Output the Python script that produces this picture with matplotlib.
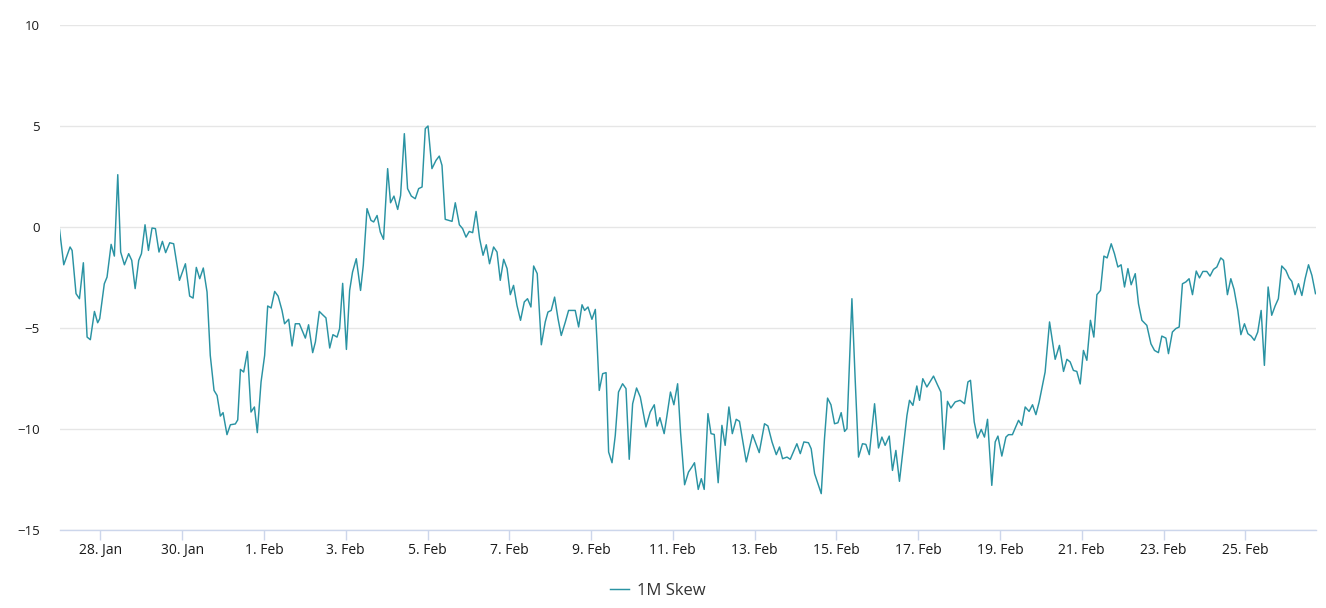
import matplotlib
matplotlib.use("Agg")
import matplotlib.pyplot as plt
import matplotlib.dates as mdates
import pandas as pd
import numpy as np

# ---- data ----
start = "2024-01-27 00:00"
hours = [0.0, 2.5, 6.2, 7.4, 9.7, 11.7, 14.0, 16.2, 18.1, 20.5, 22.4, 23.6, 26.3, 27.9, 30.3, 32.2, 34.2, 35.9, 38.1, 40.6,
         42.4, 44.4, 46.5, 48.1, 50.2, 52.2, 54.3, 56.3, 58.4, 60.4, 62.3, 64.7, 67.0, 70.4, 73.9, 76.4, 78.4, 80.3, 82.3, 84.4,
         86.6, 88.5, 90.7, 92.5, 94.4, 96.0, 98.3, 100.3, 103.2, 104.6, 106.2, 108.1, 110.3, 112.4, 114.4, 116.1, 118.3, 120.4, 122.2, 124.2,
         126.3, 128.3, 130.6, 132.1, 134.5, 136.5, 138.4, 140.8, 144.3, 146.2, 148.6, 150.2, 152.5, 154.4, 156.4, 158.6, 160.5, 162.9, 164.4, 166.2,
         168.4, 170.3, 172.0, 174.2, 176.7, 178.3, 180.5, 182.8, 184.4, 186.4, 188.3, 190.2, 192.6, 194.3, 196.3, 198.5, 200.2, 202.4, 204.3, 206.5,
         208.8, 210.8, 212.8, 214.7, 216.3, 218.6, 221.0, 222.9, 224.5, 226.4, 230.4, 232.3, 234.7, 236.6, 238.6, 240.5, 242.5, 244.5, 246.6, 248.6,
         250.5, 252.4, 254.8, 256.8, 258.7, 260.7, 262.7, 264.6, 266.5, 268.5, 270.6, 272.8, 274.7, 276.7, 278.3, 280.4, 282.8, 285.1, 286.7, 288.6,
         290.6, 292.6, 294.5, 296.9, 298.8, 302.7, 304.7, 306.7, 308.2, 310.2, 312.5, 314.5, 315.5, 316.8, 318.8, 320.8, 322.3, 324.3, 326.2, 328.1,
         330.5, 332.5, 334.4, 336.4, 338.7, 340.9, 344.2, 346.7, 349.1, 350.8, 352.4, 354.9, 356.5, 358.6, 360.6, 362.8, 364.5, 366.9, 369.2, 371.2,
         372.7, 374.9, 376.7, 378.4, 380.6, 382.4, 384.3, 386.6, 388.8, 390.7, 392.9, 394.9, 397.2, 399.1, 403.1, 406.8, 410.7, 413.8, 415.8, 418.2,
         420.7, 422.6, 424.4, 427.0, 428.9, 432.8, 434.8, 436.9, 439.6, 441.2, 443.2, 447.1, 449.0, 450.8, 452.8, 454.9, 456.9, 458.8, 460.8, 462.2,
         465.1, 467.0, 469.0, 471.3, 473.3, 475.3, 478.4, 480.7, 482.7, 484.6, 487.0, 488.9, 490.9, 493.0, 495.4, 497.4, 498.9, 500.9, 503.2, 504.8,
         506.7, 509.1, 513.0, 515.3, 517.3, 519.1, 521.2, 523.2, 525.7, 528.6, 531.2, 533.2, 534.7, 536.9, 538.8, 541.0, 542.9, 544.7, 547.2, 549.2,
         550.8, 553.1, 555.5, 557.0, 559.3, 562.9, 564.8, 566.8, 569.1, 571.1, 573.1, 575.0, 578.5, 581.1, 584.4, 586.9, 589.3, 591.3, 593.2, 595.1,
         597.1, 599.1, 601.0, 603.0, 605.1, 607.1, 608.9, 611.0, 613.0, 614.9, 617.3, 619.2, 621.2, 623.1, 625.1, 627.1, 629.0, 631.4, 633.3, 635.3,
         638.2, 640.6, 642.7, 645.0, 647.0, 649.4, 650.9, 653.2, 655.2, 657.2, 659.1, 661.1, 663.0, 665.0, 667.2, 669.1, 671.1, 673.4, 675.3, 677.3,
         679.3, 681.6, 683.2, 685.5, 687.5, 689.4, 691.6, 693.4, 695.5, 697.5, 699.4, 701.3, 703.3, 705.3, 707.2, 709.4, 711.5, 713.5, 715.4, 717.4,
         719.8, 721.7, 723.3, 725.2, 727.2, 729.2, 731.1, 733.1, 735.1, 737.2]
skew = [-0.12, -1.87, -0.99, -1.16, -3.30, -3.55, -1.77, -5.45, -5.58, -4.18, -4.74, -4.54, -2.81, -2.48, -0.86, -1.44, 2.59, -1.24, -1.87, -1.32,
        -1.65, -3.05, -1.65, -1.32, 0.11, -1.16, -0.05, -0.08, -1.24, -0.71, -1.27, -0.78, -0.83, -2.64, -1.82, -3.42, -3.52, -2.00, -2.56, -2.03,
        -3.22, -6.36, -8.09, -8.34, -9.36, -9.19, -10.28, -9.79, -9.75, -9.55, -7.05, -7.18, -6.16, -9.16, -8.91, -10.18, -7.67, -6.36, -3.91, -4.01,
        -3.19, -3.42, -4.13, -4.79, -4.57, -5.89, -4.79, -4.79, -5.50, -4.84, -6.22, -5.69, -4.18, -4.34, -4.50, -5.99, -5.33, -5.45, -5.03, -2.79,
        -6.06, -3.14, -2.23, -1.57, -3.14, -1.90, 0.91, 0.33, 0.25, 0.57, -0.25, -0.61, 2.89, 1.20, 1.53, 0.87, 1.56, 4.62, 1.90, 1.53,
        1.40, 1.90, 1.98, 4.87, 5.00, 2.89, 3.30, 3.51, 3.05, 0.38, 0.28, 1.20, 0.11, -0.08, -0.50, -0.22, -0.28, 0.77, -0.58, -1.40,
        -0.88, -1.82, -0.99, -1.24, -2.64, -1.60, -2.06, -3.35, -2.89, -3.88, -4.62, -3.71, -3.55, -3.96, -1.93, -2.31, -5.83, -4.70, -4.21, -4.13,
        -3.47, -4.54, -5.37, -4.70, -4.13, -4.13, -4.95, -3.85, -4.13, -3.96, -4.57, -4.08, -5.69, -8.09, -7.26, -7.21, -11.14, -11.67, -10.32, -8.17,
        -7.76, -8.00, -11.50, -8.75, -7.97, -8.42, -9.90, -9.16, -8.80, -9.85, -9.44, -10.23, -9.36, -8.17, -8.80, -7.76, -10.15, -12.76, -12.13, -11.88,
        -11.67, -12.99, -12.46, -12.99, -9.24, -10.23, -10.27, -12.66, -9.82, -10.81, -8.91, -10.23, -9.52, -9.62, -11.63, -10.28, -11.17, -9.74, -9.85, -10.64,
        -11.27, -10.89, -11.47, -11.39, -11.50, -10.73, -11.22, -10.64, -10.68, -10.98, -12.21, -13.20, -10.48, -8.47, -8.80, -9.74, -9.69, -9.19, -10.12, -9.98,
        -3.55, -7.51, -11.39, -10.73, -10.76, -11.27, -8.75, -10.94, -10.40, -10.81, -10.35, -12.05, -11.06, -12.59, -10.81, -9.33, -8.58, -8.83, -7.87, -8.58,
        -7.51, -7.92, -7.38, -7.81, -8.17, -11.01, -8.63, -8.96, -8.66, -8.58, -8.75, -7.67, -7.59, -9.65, -10.45, -10.02, -10.40, -9.52, -12.79, -10.64,
        -10.35, -11.34, -10.40, -10.28, -10.28, -9.57, -9.82, -8.91, -9.13, -8.80, -9.29, -8.66, -7.18, -4.70, -6.55, -5.86, -7.15, -6.55, -6.68, -7.10,
        -7.15, -7.77, -6.11, -6.60, -4.62, -5.45, -3.35, -3.14, -1.44, -1.53, -0.83, -1.32, -1.98, -1.87, -2.97, -2.06, -2.86, -2.31, -3.80, -4.62,
        -4.87, -5.78, -6.11, -6.22, -5.40, -5.50, -6.27, -5.20, -5.03, -4.95, -2.81, -2.72, -2.56, -3.35, -2.18, -2.52, -2.20, -2.20, -2.43, -2.10,
        -1.98, -1.53, -1.65, -3.35, -2.56, -3.09, -4.13, -5.33, -4.79, -5.28, -5.40, -5.61, -5.20, -4.13, -6.85, -2.97, -4.37, -3.91, -3.55, -1.93,
        -2.15, -2.52, -2.69, -3.35, -2.81, -3.39, -2.56, -1.87, -2.40, -3.30]
series_name = "1M Skew"
y_ticks = [-15, -10, -5, 0, 5, 10]
x_tick_dates = ["2024-01-28", "2024-01-30", "2024-02-01", "2024-02-03", "2024-02-05", "2024-02-07",
                "2024-02-09", "2024-02-11", "2024-02-13", "2024-02-15", "2024-02-17", "2024-02-19",
                "2024-02-21", "2024-02-23", "2024-02-25"]
x_tick_labels = ["28. Jan", "30. Jan", "1. Feb", "3. Feb", "5. Feb", "7. Feb", "9. Feb", "11. Feb",
                 "13. Feb", "15. Feb", "17. Feb", "19. Feb", "21. Feb", "23. Feb", "25. Feb"]

times = pd.Timestamp(start) + pd.to_timedelta(hours, unit="h")

plt.rcParams['font.family'] = ['Open Sans', 'DejaVu Sans']

W, H = 1326, 608
fig = plt.figure(figsize=(W / 100, H / 100), dpi=100)
ax = fig.add_axes([59.5 / W, 1 - 530 / H, (1315.5 - 59.5) / W, (530 - 25) / H])

line_color = "#2a93a3"
ax.plot(times, skew, color=line_color, lw=1.05, label=series_name, solid_joinstyle="round")

ax.set_xlim(times[0], times[-1])
ax.set_ylim(-15, 10)

ax.set_yticks(y_ticks)
ax.set_yticklabels([f"{t}".replace("-", "−") for t in y_ticks])
ax.tick_params(axis="y", length=0, pad=14, labelsize=9.5, labelcolor="#1a1a1a")

ax.set_xticks(pd.to_datetime(x_tick_dates))
ax.set_xticklabels(x_tick_labels)
ax.tick_params(axis="x", length=7.2, width=1, color="#ccd6eb", pad=2.5, labelsize=10, labelcolor="#1a1a1a")

ax.grid(axis="y", color="#e6e6e6", lw=1)
ax.set_axisbelow(True)
for s in ["top", "right", "left"]:
    ax.spines[s].set_visible(False)
ax.spines["bottom"].set_color("#ccd6eb")
ax.spines["bottom"].set_linewidth(1)

leg = fig.legend(loc="center", bbox_to_anchor=(658 / W, 1 - 591 / H), frameon=False,
                 fontsize=12, handlelength=1.1, handletextpad=0.5)
for t in leg.get_texts():
    t.set_color("#333333")

fig.savefig("out.png", dpi=100)
